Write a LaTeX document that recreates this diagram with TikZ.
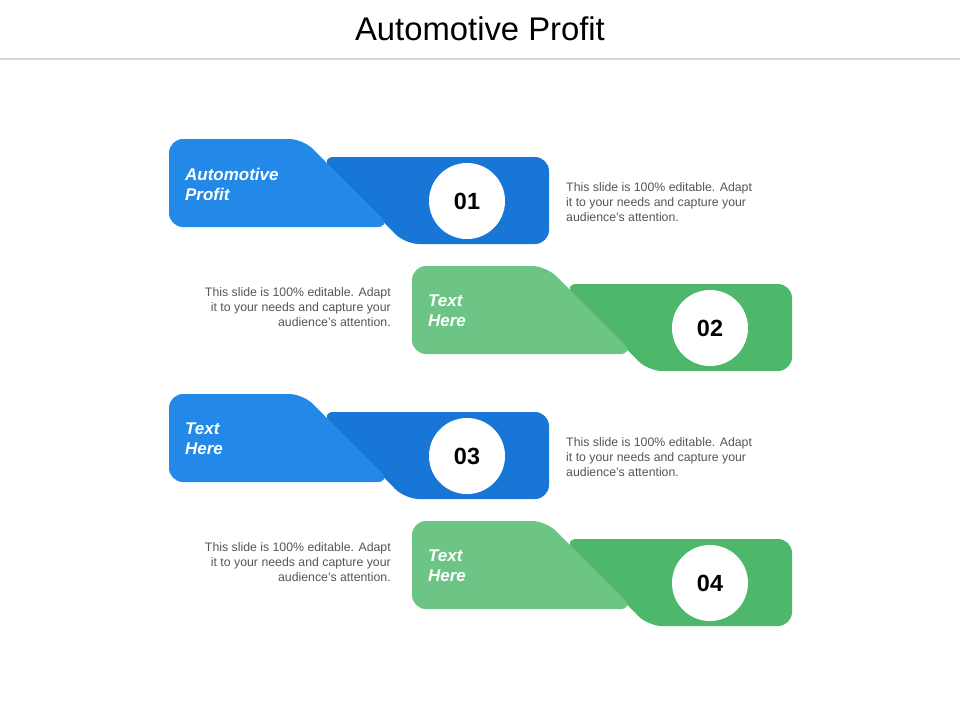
\documentclass[tikz,border=0pt]{standalone}
\usepackage{fontspec}
\setmainfont{Liberation Sans}
\usetikzlibrary{positioning, calc}
\definecolor{blueA}{HTML}{2389E8}
\definecolor{blueB}{HTML}{1877D6}
\definecolor{greenA}{HTML}{6CC585}
\definecolor{greenB}{HTML}{4DB86A}
\definecolor{descgray}{HTML}{555555}

\begin{document}
\begin{tikzpicture}[
  x=0.03cm, y=-0.03cm,
  numdisc/.style={circle,fill=white,minimum size=2.28cm,inner sep=0pt,font=\fontsize{20}{22}\selectfont\bfseries},
  tablabel/.style={anchor=west,align=left,text=white,font=\fontsize{14.5}{17}\selectfont\bfseries\itshape},
  desc/.style={text=descgray,font=\fontsize{10.5}{13}\selectfont,inner sep=0pt}
]
\useasboundingbox (0,0) rectangle (960,720);

\node (title) at (480,29) {\fontsize{28}{30}\selectfont Automotive Profit};
\draw[gray!30, line width=1.2pt] (0,59) -- (960,59);

% rows: y offset / x offset / light / dark / label / number / text side
\foreach \dy/\dx/\cl/\cd/\lab/\num/\side in {
    0/0/blueA/blueB/{Automotive\\Profit}/01/r,
    127/243/greenA/greenB/{Text\\Here}/02/l,
    255/0/blueA/blueB/{Text\\Here}/03/r,
    382/243/greenA/greenB/{Text\\Here}/04/l} {
  \begin{scope}[shift={(\dx,\dy)}]
    \fill[\cd, rounded corners=12pt] (320,157) -- (549,157) -- (549,244) -- (405,244) -- cycle;
    \fill[\cl, rounded corners=12pt] (169,139) -- (303,139) -- (391,227) -- (169,227) -- cycle;
    \node[tablabel] (lab\num) at (181,184) {\lab};
    \node[numdisc] (num\num) at (467,201) {\num};
    \if r\side
      \node[desc, anchor=west, align=left] (txt\num) at (566,202)
        {This slide is 100\% editable. Adapt\\it to your needs and capture your\\audience's attention.};
    \else
      \node[desc, anchor=east, align=right] (txt\num) at (148,180)
        {This slide is 100\% editable. Adapt\\it to your needs and capture your\\audience's attention.};
    \fi
  \end{scope}
}
\end{tikzpicture}
\end{document}
